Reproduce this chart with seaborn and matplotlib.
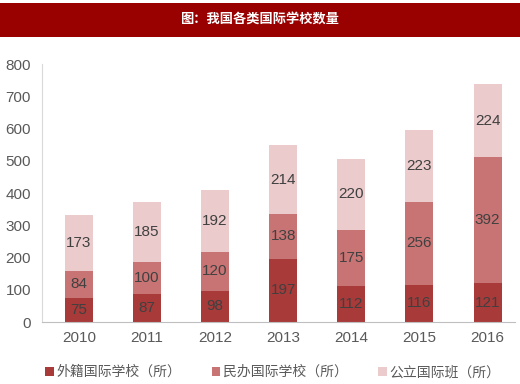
import numpy as np
import pandas as pd
import matplotlib
matplotlib.use("Agg")
import matplotlib.pyplot as plt
import seaborn as sns
from matplotlib.patches import Rectangle, Patch

# ------------------------------------------------------------------
# Data
# ------------------------------------------------------------------
years = ["2010", "2011", "2012", "2013", "2014", "2015", "2016"]
foreign = [75, 87, 98, 197, 112, 116, 121]
private = [84, 100, 120, 138, 175, 256, 392]
public = [173, 185, 192, 214, 220, 223, 224]

series_names = ["外籍国际学校（所）", "民办国际学校（所）", "公立国际班（所）"]
colors = ["#A83A3A", "#C97474", "#EBCBCB"]

df = pd.DataFrame({"year": years, "foreign": foreign,
                   "private": private, "public": public})
df["s1"] = df["foreign"]
df["s2"] = df["foreign"] + df["private"]
df["s3"] = df["s2"] + df["public"]

# ------------------------------------------------------------------
# Plot
# ------------------------------------------------------------------
sns.set_style("white")
plt.rcParams["font.family"] = ["Liberation Sans", "Noto Sans CJK SC", "DejaVu Sans"]

fig = plt.figure(figsize=(5.2, 3.84), dpi=100)
ax = fig.add_axes([0.081, 0.161, 0.909, 0.672])

# stacked bars: draw totals first, then overlay partial sums
for col, c in zip(["s3", "s2", "s1"], colors[::-1]):
    sns.barplot(data=df, x="year", y=col, color=c, width=0.41,
                saturation=1, ax=ax, edgecolor="none")

# segment labels
for i in range(len(years)):
    bottoms = [0, df["s1"][i], df["s2"][i]]
    vals = [foreign[i], private[i], public[i]]
    for b, v in zip(bottoms, vals):
        ax.text(i, b + v / 2, str(v), ha="center", va="center",
                fontsize=11, color="#404040")

ax.set_ylim(0, 800)
ax.set_yticks(range(0, 801, 100))
ax.set_xlim(-0.54, 6.4)
ax.set_xlabel("")
ax.set_ylabel("")
ax.tick_params(axis="both", labelsize=11, colors="#595959", length=0, pad=6)
ax.tick_params(axis="y", length=4, color="#D9D9D9", pad=4)
for s in ["top", "right"]:
    ax.spines[s].set_visible(False)
ax.spines["left"].set_color("#D9D9D9")
ax.spines["bottom"].set_color("#BFBFBF")

# legend
handles = [Patch(facecolor=c, edgecolor="none") for c in colors]
fig.legend(handles, series_names, loc="center", bbox_to_anchor=(0.525, 0.031),
           ncol=3, frameon=False, fontsize=10, handlelength=0.6,
           handleheight=0.6, handletextpad=0.2, columnspacing=2.2,
           labelcolor="#595959")

# title banner
fig.patches.append(Rectangle((0, 0.904), 1, 0.088, transform=fig.transFigure,
                             facecolor="#990000", edgecolor="none"))
fig.text(0.5, 0.948, "图：我国各类国际学校数量", ha="center", va="center",
         fontsize=9.5, color="white", fontweight="bold")

fig.savefig("out.png", dpi=100)
